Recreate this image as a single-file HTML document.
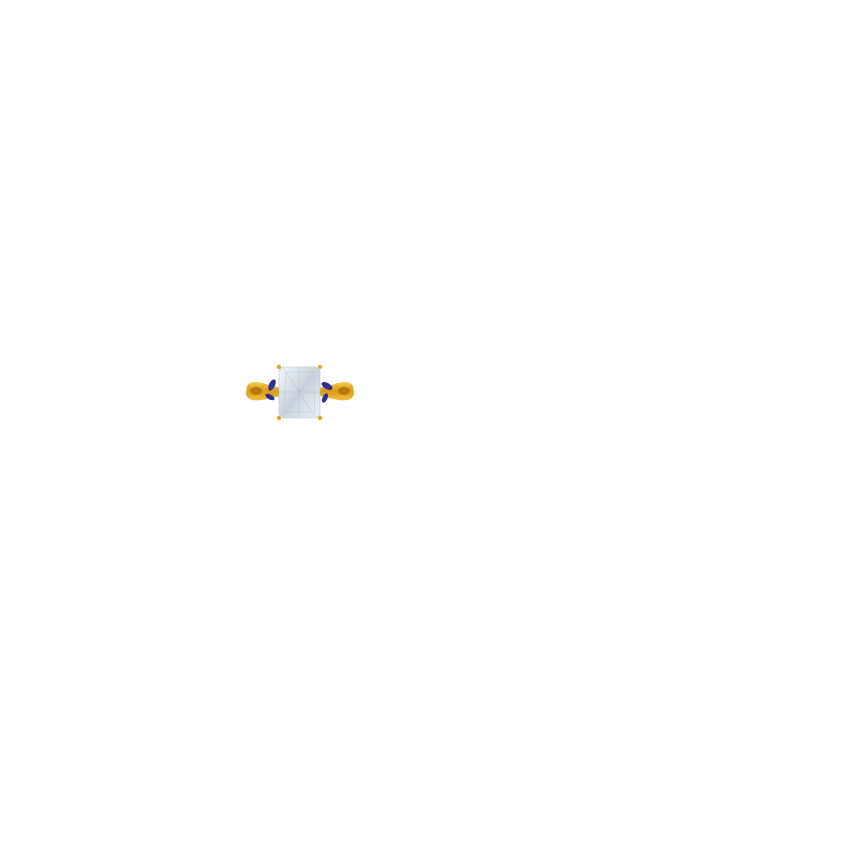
<!DOCTYPE html>
<html><head><meta charset="utf-8"><style>html,body{margin:0;padding:0;background:#fff;width:850px;height:850px;overflow:hidden}</style></head>
<body>
<svg width="850" height="850" viewBox="0 0 850 850" xmlns="http://www.w3.org/2000/svg">
<defs>
<linearGradient id="g" x1="0" y1="0" x2="0" y2="1"><stop offset="0" stop-color="#f3c94a"/><stop offset="0.5" stop-color="#d99a12"/><stop offset="1" stop-color="#f0c040"/></linearGradient>
<linearGradient id="d" x1="0" y1="0" x2="1" y2="1"><stop offset="0" stop-color="#f4f8fc"/><stop offset="0.5" stop-color="#c8d2dc"/><stop offset="1" stop-color="#eef3f8"/></linearGradient>
</defs>
<!-- band left -->
<path d="M247 386 Q250 380 262 383 L280 388 L280 396 L262 400 Q248 402 246 394 Z" fill="url(#g)"/>
<ellipse cx="256" cy="391" rx="6" ry="4" fill="#b87a08"/>
<!-- band right -->
<path d="M353 386 Q350 380 338 383 L320 388 L320 396 L338 400 Q352 402 354 394 Z" fill="url(#g)"/>
<ellipse cx="344" cy="391" rx="6" ry="4" fill="#b87a08"/>
<!-- sapphires -->
<ellipse cx="272" cy="385" rx="3" ry="6" transform="rotate(25 272 385)" fill="#2a2f9a"/>
<ellipse cx="270" cy="397" rx="5" ry="2.5" transform="rotate(30 270 397)" fill="#2a2f9a"/>
<ellipse cx="327" cy="386" rx="6" ry="3" transform="rotate(30 327 386)" fill="#2a2f9a"/>
<ellipse cx="325" cy="398" rx="2.5" ry="5" transform="rotate(25 325 398)" fill="#2a2f9a"/>
<!-- stone -->
<path d="M283 367 L316 367 L320 371 L320 414 L316 418 L283 418 L279 414 L279 371 Z" fill="url(#d)" stroke="#b8c2cc" stroke-width="0.6"/>
<path d="M286 372 L313 372 L315 412 L284 412 Z M299 367 L299 418 M279 392 L320 392 M283 367 L316 418 M316 367 L283 418" fill="none" stroke="#aab6c2" stroke-width="0.5" opacity="0.7"/>
<!-- prongs -->
<circle cx="279" cy="367" r="2.2" fill="#e0a820"/><circle cx="320" cy="367" r="2.2" fill="#e0a820"/>
<circle cx="279" cy="418" r="2.2" fill="#e0a820"/><circle cx="320" cy="418" r="2.2" fill="#e0a820"/>
</svg>
</body></html>
